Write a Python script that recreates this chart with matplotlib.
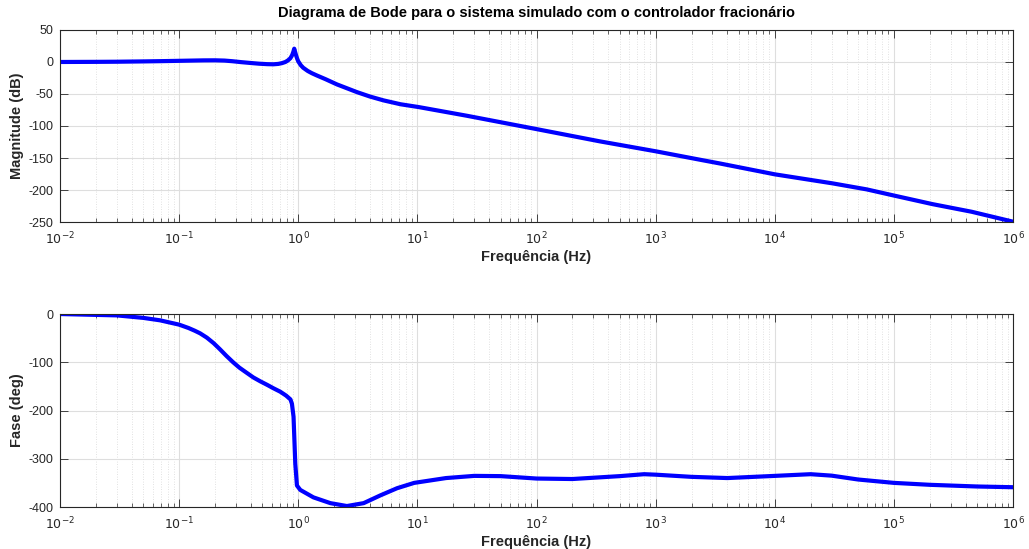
import matplotlib
matplotlib.use("Agg")
import matplotlib.pyplot as plt
import numpy as np
from matplotlib.ticker import LogLocator

plt.rcParams['font.family'] = ['Liberation Sans', 'DejaVu Sans']
plt.rcParams['axes.unicode_minus'] = False

title = "Diagrama de Bode para o sistema simulado com o controlador fracionário"
xlabel = "Frequência (Hz)"
mag_ylabel = "Magnitude (dB)"
phase_ylabel = "Fase (deg)"

mag_freq = [0.01, 0.02, 0.03, 0.05, 0.07, 0.1, 0.13, 0.16, 0.2, 0.24, 0.28, 0.33,
            0.4, 0.47, 0.55, 0.62, 0.68, 0.73, 0.78, 0.82, 0.86, 0.89, 0.91, 0.925,
            0.94, 0.96, 0.98, 1.0, 1.05, 1.1, 1.2, 1.3, 1.43, 1.7, 2.11, 2.6, 3.1,
            4.0, 5.2, 7.2, 10.3, 26, 101, 340, 1000, 2400, 3450, 1e4, 3.05e4, 5.9e4,
            1.02e5, 2.1e5, 4.5e5, 1e6]
mag_db = [0.0, 0.2, 0.4, 0.9, 1.3, 1.8, 2.2, 2.5, 2.6, 2.2, 1.2, -0.2,
          -1.6, -2.7, -3.4, -3.6, -3.0, -1.8, 0.0, 2.5, 6.0, 11.0, 16.0, 20.8,
          16.0, 10.0, 5.0, 1.0, -5.0, -9.0, -14.0, -17.5, -21.0, -27.0, -35.0,
          -41.5, -47.0, -54.0, -60.0, -66.0, -70.5, -84.0, -105.0, -124.0, -139.5,
          -153.0, -158.5, -175.5, -189.6, -199.0, -209.0, -222.0, -234.0, -249.5]

phase_freq = [0.01, 0.03, 0.05, 0.069, 0.1, 0.12, 0.135, 0.15, 0.171, 0.195, 0.22,
              0.25, 0.284, 0.32, 0.37, 0.42, 0.48, 0.55, 0.62, 0.706, 0.79, 0.86,
              0.885, 0.913, 0.944, 0.975, 1.04, 1.34, 1.86, 2.56, 3.54, 4.88, 6.76,
              9.4, 17.4, 30, 50, 100, 200, 500, 800, 1000, 2000, 4000, 1e4, 2e4, 3e4,
              5e4, 1e5, 2e5, 5e5, 1e6]
phase_deg = [0.0, -2.8, -8.0, -13.0, -22.0, -29.0, -34.5, -40.0, -49.0, -60.5,
             -73.0, -87.0, -100.0, -111.0, -122.0, -131.5, -139.5, -147.0, -154.0,
             -161.0, -169.0, -177.0, -186.0, -213.0, -310.0, -355.5, -364.6, -380.0,
             -392.0, -398.0, -392.0, -376.0, -361.0, -350.0, -340.0, -335.5, -336.0,
             -341.0, -342.0, -336.0, -332.0, -333.0, -337.5, -340.0, -335.5, -332.0,
             -335.0, -343.0, -350.0, -354.0, -357.5, -359.0]

mag_yticks = [-250, -200, -150, -100, -50, 0, 50]
phase_yticks = [-400, -300, -200, -100, 0]
xticks = [1e-2, 1e-1, 1e0, 1e1, 1e2, 1e3, 1e4, 1e5, 1e6]
xticklabels = [r'$10^{-2}$', r'$10^{-1}$', r'$10^{0}$', r'$10^{1}$', r'$10^{2}$',
               r'$10^{3}$', r'$10^{4}$', r'$10^{5}$', r'$10^{6}$']

fig = plt.figure(figsize=(10.29, 5.49), dpi=100)
ax1 = fig.add_axes([0.0583, 0.5956, 0.9262, 0.3498])
ax2 = fig.add_axes([0.0583, 0.0765, 0.9262, 0.3515])

edge = '#262626'

def style(ax, yticks, ylim):
    ax.set_xscale('log')
    ax.set_xlim(1e-2, 1e6)
    ax.set_ylim(*ylim)
    ax.set_xticks(xticks)
    ax.set_xticklabels(xticklabels)
    ax.xaxis.set_minor_locator(LogLocator(base=10, subs=np.arange(2, 10), numticks=100))
    ax.set_yticks(yticks)
    ax.grid(True, which='major', color='#dedede', linewidth=0.8, linestyle='-')
    ax.grid(True, which='minor', axis='x', color='#d8d8d8', linewidth=0.6, linestyle=(0, (1, 2)))
    ax.tick_params(which='both', direction='in', top=True, right=True, colors=edge,
                   labelsize=9, labelcolor=edge)
    ax.tick_params(which='major', length=6, width=0.6)
    ax.tick_params(axis='x', which='major', pad=6)
    ax.tick_params(axis='y', which='major', pad=5)
    ax.tick_params(which='minor', length=3, width=0.5)
    for s in ax.spines.values():
        s.set_color(edge)
        s.set_linewidth(0.8)
    ax.set_axisbelow(True)
    ax.set_xlabel(xlabel, fontsize=10.5, fontweight='bold', color=edge, labelpad=2)

ax1.plot(mag_freq, mag_db, color='blue', linewidth=3.0, solid_capstyle='round',
         solid_joinstyle='round')
style(ax1, mag_yticks, (-250, 50))
ax1.set_ylabel(mag_ylabel, fontsize=10.5, fontweight='bold', color=edge, labelpad=3)
ax1.set_title(title, fontsize=10.5, fontweight='bold', color='black', pad=9)

ax2.plot(phase_freq, phase_deg, color='blue', linewidth=3.0, solid_capstyle='round',
         solid_joinstyle='round')
style(ax2, phase_yticks, (-400, 0))
ax2.set_ylabel(phase_ylabel, fontsize=10.5, fontweight='bold', color=edge, labelpad=3)

fig.savefig('out.png', dpi=100, facecolor='white')
